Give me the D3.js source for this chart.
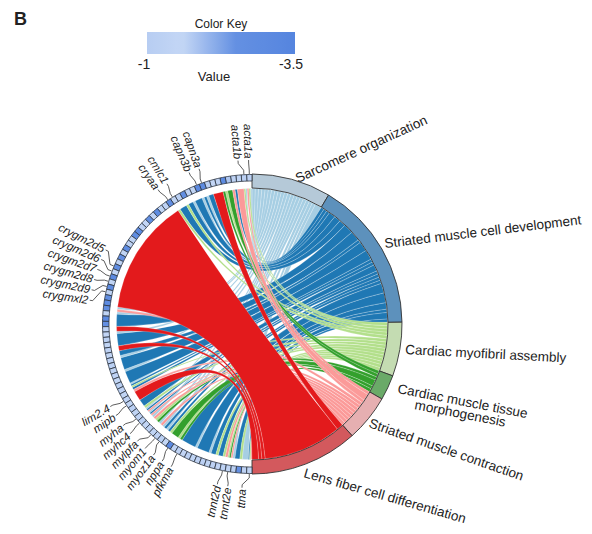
<!DOCTYPE html>
<html><head><meta charset="utf-8">
<script src="https://cdn.jsdelivr.net/npm/d3@7"></script>
<style>
body{margin:0;background:#fff}
svg{display:block}
text{font-family:"Liberation Sans",Arial,Helvetica,sans-serif;fill:#222}
</style>
</head><body>
<svg id="chart" width="592" height="534"></svg>
<script>
// ---------- DATA ----------
const terms = ["Sarcomere organization","Striated muscle cell development","Cardiac myofibril assembly",
  "Cardiac muscle tissue morphogenesis","Striated muscle contraction","Lens fiber cell differentiation"];
const termCodes = ["S","D","M","T","C","L"];
const ribbonColors = ["#a6cee3","#1f78b4","#b2df8a","#33a02c","#fb9a99","#e31a1c"];
const termRingColors = ["#b5c9d8","#5d91bc","#c4dcb2","#6aaa68","#e6afb1","#d3595d"];

// genes in plot order (counter-clockwise from the top); "" = unlabeled gene
const genes = [
 "acta1a","acta1b","","","","","","","","capn3a",
 "capn3b","","","","","cmlc1","cryaa","","","",
 "","","","","","","","","","",
 "","","crygm2d5","crygm2d6","crygm2d7","crygm2d8","crygm2d9","crygmxl2","","",
 "","","","","","","","","","",
 "","","","","","","","","lim2.4","mipb",
 "","","myha","myhc4","","","mylpfa","myom1","myoz1a","",
 "nppa","","pfkma","","","","","","","",
 "","tnnt2d","tnnt2e","","","","ttna"];
// GO term membership of each gene (codes above)
const geneTerms = [
 "SMC","SMC","C","DC","T","MT","L","L","D","SD",
 "SD","D","SD","DM","D","DM","L","L","L","L",
 "L","L","L","L","L","L","L","L","L","L",
 "L","L","L","L","L","L","L","L","L","L",
 "SC","SD","D","D","L","SD","D","D","L","D",
 "SD","D","D","SD","D","D","SDM","DC","L","L",
 "D","DM","SDC","SDC","SC","MT","SC","SD","SD","MT",
 "T","MT","D","D","D","SD","D","D","SD","DM",
 "D","MC","MCT","SD","DM","S","SDMC"];
// logFC values
const logFC = [
 -1.3,-1.2,-1.4,-1.3,-1.8,-3.0,-1.3,-1.5,-1.2,-2.9,
 -3.1,-1.4,-1.3,-2.6,-1.2,-1.4,-2.8,-1.3,-1.4,-2.9,
 -1.3,-2.7,-1.5,-1.3,-3.0,-2.8,-1.4,-1.3,-2.9,-1.4,
 -2.6,-1.3,-2.8,-1.5,-3.1,-1.4,-2.9,-1.3,-2.7,-3.0,
 -2.8,-1.4,-3.1,-2.6,-1.3,-1.5,-1.2,-1.4,-1.3,-1.5,
 -1.3,-1.2,-1.4,-1.3,-1.6,-1.2,-1.3,-1.4,-1.3,-1.5,
 -1.2,-1.4,-1.3,-1.2,-1.5,-1.3,-1.4,-1.3,-1.2,-1.6,
 -3.2,-1.4,-1.3,-1.5,-1.2,-1.4,-1.3,-1.2,-1.4,-1.3,
 -1.5,-1.3,-1.4,-1.2,-2.6,-1.3,-1.4];
const keyDomain = [-1,-3.5];
const keyTicks = ["-1","-3.5"];

// ---------- LAYOUT ----------
const svg = d3.select("#chart");
const W = 592, H = 534;
svg.append("rect").attr("width",W).attr("height",H).attr("fill","#fff");
const cx = 252, cy = 324;
const rRib = 135.5, rTermIn = 136, rTermOut = 150, rGeneIn = 143, rGeneOut = 149.5;
const N = genes.length, TAU = Math.PI*2;
const g = Math.PI / N;

const color = d3.scaleLinear().domain([-1,-1.6,-2.5,-3.5])
  .range(["#b7cdf2","#c4d7f5","#6490e2","#5585df"]);

// term membership lists
const termGenes = termCodes.map(c => d3.range(N).filter(i => geneTerms[i].includes(c)));
const totalLinks = d3.sum(termGenes, d => d.length);
const unit = Math.PI / totalLinks;
const termStart = []; let acc = 0;
termGenes.forEach((lst,j)=>{ termStart[j]=acc; acc += lst.length*unit; });

const root = svg.append("g").attr("transform",`translate(${cx},${cy})`);

// ribbons (contiguous gene-term links of one term are merged into one band)
const ribbon = d3.ribbon().radius(rRib);
const links = [];
termCodes.forEach((c,j)=>{
  let cur = null;
  termGenes[j].forEach((i,pos)=>{
    const codes = termCodes.filter(cc => geneTerms[i].includes(cc));
    const k = codes.length, m = codes.indexOf(c);
    const hi = TAU - i*g - m*g/k, lo = TAU - i*g - (m+1)*g/k;
    const t0 = termStart[j] + pos*unit, t1 = t0 + unit;
    if (cur && Math.abs(cur.source.startAngle - hi) < 1e-9) {
      cur.source.startAngle = lo; cur.target.endAngle = t1;
    } else {
      cur = {j, source:{startAngle:lo,endAngle:hi}, target:{startAngle:t0,endAngle:t1}};
      links.push(cur);
    }
  });
});
root.append("g").selectAll("path").data(links).join("path")
  .attr("d", ribbon)
  .attr("fill", d => ribbonColors[d.j])
  .attr("stroke", "#fff").attr("stroke-width",0.25).attr("stroke-opacity",0.8);

// term ring
const termArc = d3.arc().innerRadius(rTermIn).outerRadius(rTermOut);
root.append("g").selectAll("path").data(terms).join("path")
  .attr("d",(d,j)=>termArc({startAngle:termStart[j],endAngle:termStart[j]+termGenes[j].length*unit}))
  .attr("fill",(d,j)=>termRingColors[j]).attr("stroke","#333").attr("stroke-width",0.9);

// gene squares
const geneArc = d3.arc().innerRadius(rGeneIn).outerRadius(rGeneOut);
root.append("g").selectAll("path").data(genes).join("path")
  .attr("d",(d,i)=>geneArc({startAngle:TAU-(i+1)*g,endAngle:TAU-i*g}))
  .attr("fill",(d,i)=>color(logFC[i])).attr("stroke","#2b3440").attr("stroke-width",0.8);

// gene labels with spreading
const lab = genes.map((n,i)=>({n,i})).filter(d=>d.n);
lab.forEach(d=>{ d.ang=(d.i+0.5)*180/N; d.la=d.ang; });
const sep = 3.7;
for(let it=0;it<300;it++){
  for(let k=0;k<lab.length-1;k++){
    const a=lab[k], b=lab[k+1], gap=b.la-a.la;
    if(gap<sep){ const s=(sep-gap)/2; a.la-=s; b.la+=s; }
  }
  lab[0].la=Math.max(lab[0].la,1.2);
  lab[lab.length-1].la=Math.min(lab[lab.length-1].la,176.5);
}
const pt = (degCcw, r) => { const a = TAU - degCcw*Math.PI/180; return [r*Math.sin(a), -r*Math.cos(a)]; };
const lg = root.append("g");
lab.forEach(d=>{
  const p = [pt(d.ang,150), pt(d.ang,154), pt(d.la,161), pt(d.la,164)];
  lg.append("path").attr("d",d3.line()(p)).attr("fill","none").attr("stroke","#333").attr("stroke-width",0.8);
  const a = TAU - d.la*Math.PI/180;
  const rot = Math.atan2(Math.cos(a), -Math.sin(a))*180/Math.PI;
  const q = pt(d.la,165.5);
  lg.append("text").attr("transform",`translate(${q[0]},${q[1]}) rotate(${rot})`)
    .attr("text-anchor","end").attr("dy","0.35em")
    .style("font-size","11.5px").style("font-style","italic").text(d.n);
});

// term labels
const termLabelLayout = [
  {x:298,y:183,rot:-24.6},{x:385,y:248,rot:-6.9},{x:405,y:354,rot:3},
  {x:397,y:393,rot:11},{x:368,y:427,rot:19.3},{x:303,y:477,rot:16}];
terms.forEach((t,j)=>{
  const L = termLabelLayout[j];
  const tx = svg.append("text").attr("transform",`translate(${L.x},${L.y}) rotate(${L.rot})`)
    .style("font-size","13.5px");
  if(j===3){
    tx.attr("text-anchor","middle");
    tx.append("tspan").attr("x",66).attr("y",0).text("Cardiac muscle tissue");
    tx.append("tspan").attr("x",66).attr("y",12.5).text("morphogenesis");
  } else tx.text(t);
});

// color key
const kx0=147, kx1=295, ky=32, kh=22;
const defs = svg.append("defs");
const grad = defs.append("linearGradient").attr("id","kg");
const ks = d3.scaleLinear().domain([0,1]).range(keyDomain);
d3.range(0,1.0001,0.05).forEach(t=>grad.append("stop").attr("offset",t).attr("stop-color",color(ks(t))));
svg.append("rect").attr("x",kx0).attr("y",ky).attr("width",kx1-kx0).attr("height",kh).attr("fill","url(#kg)");
svg.append("text").attr("x",(kx0+kx1)/2).attr("y",28).attr("text-anchor","middle").style("font-size","12px").text("Color Key");
const kscale = d3.scaleLinear().domain(keyDomain).range([kx0-3,kx1-4]);
keyTicks.forEach(t=>svg.append("text").attr("x",kscale(+t)).attr("y",69).attr("text-anchor","middle").style("font-size","14px").text(t));
svg.append("text").attr("x",214).attr("y",81).attr("text-anchor","middle").style("font-size","13px").text("Value");
svg.append("text").attr("x",14).attr("y",25).style("font-size","18px").style("font-weight","bold").text("B");
</script>
</body></html>
